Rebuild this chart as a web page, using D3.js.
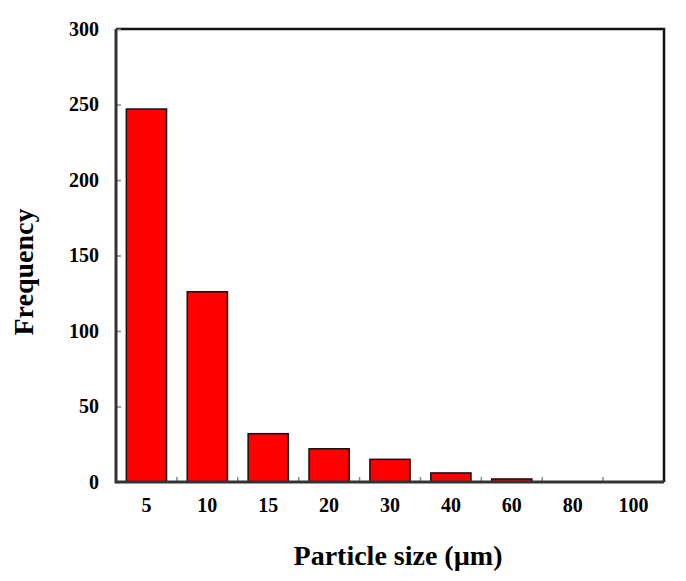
<!DOCTYPE html>
<html><head><meta charset="utf-8">
<script src="https://cdn.jsdelivr.net/npm/d3@7"></script>
<style>body{margin:0;background:#fff}svg{display:block}</style>
</head><body>
<script>
const categories = ["5","10","15","20","30","40","60","80","100"];
const frequency = [247,126,32,22,15,6,2,0,0];
const yTicks = [0,50,100,150,200,250,300];

const W=686,H=581;
const m={left:116,right:22,top:29,bottom:99};
const svg=d3.select("body").append("svg").attr("width",W).attr("height",H);
const x=d3.scaleBand().domain(categories).range([m.left,W-m.right]).paddingInner(0.34).paddingOuter(0.17);
const y=d3.scaleLinear().domain([0,300]).range([H-m.bottom,m.top]);
const font="'Liberation Serif','Times New Roman',serif";

// bars
svg.selectAll("rect.bar").data(frequency).join("rect").attr("class","bar")
  .attr("x",(d,i)=>x(categories[i])).attr("width",x.bandwidth())
  .attr("y",d=>y(d)).attr("height",d=>y(0)-y(d))
  .attr("fill","#ff0000").attr("stroke","#111").attr("stroke-width",1.5);

// frame top/right
svg.append("path").attr("d",`M${m.left},${m.top}H${W-m.right}V${H-m.bottom}`)
  .attr("fill","none").attr("stroke","#111").attr("stroke-width",2.5);

// y axis ticks (inward)
const yAxis=d3.axisLeft(y).tickValues(yTicks).tickSizeInner(-5).tickSizeOuter(0).tickPadding(17);
const gy=svg.append("g").attr("transform",`translate(${m.left},0)`).call(yAxis);
gy.select(".domain").remove();
gy.selectAll(".tick line").attr("stroke","#888").attr("stroke-width",1.5);
gy.selectAll(".tick text").attr("font-family",font).attr("font-weight","bold").attr("font-size",20).attr("fill","#000");

// x axis: ticks at band boundaries
const step=x.step();
const bounds=categories.slice(1).map(c=>x(c)-x.paddingInner()*step/2);
svg.selectAll("line.xt").data(bounds).join("line").attr("class","xt")
  .attr("x1",d=>d).attr("x2",d=>d).attr("y1",y(0)).attr("y2",y(0)-5)
  .attr("stroke","#888").attr("stroke-width",1.5);
svg.selectAll("text.xl").data(categories).join("text").attr("class","xl")
  .attr("x",d=>x(d)+x.bandwidth()/2).attr("y",y(0)+30)
  .attr("text-anchor","middle").attr("font-family",font).attr("font-weight","bold").attr("font-size",20).text(d=>d);

// left/bottom axis lines
svg.append("path").attr("d",`M${m.left},${m.top}V${H-m.bottom}H${W-m.right}`)
  .attr("fill","none").attr("stroke","#333").attr("stroke-width",3);

// axis titles
svg.append("text").attr("x",398).attr("y",565).attr("text-anchor","middle")
  .attr("font-family",font).attr("font-weight","bold").attr("font-size",28).text("Particle size (µm)");
svg.append("text").attr("transform",`translate(33,272) rotate(-90)`).attr("text-anchor","middle")
  .attr("font-family",font).attr("font-weight","bold").attr("font-size",28).text("Frequency");
</script>
</body></html>
